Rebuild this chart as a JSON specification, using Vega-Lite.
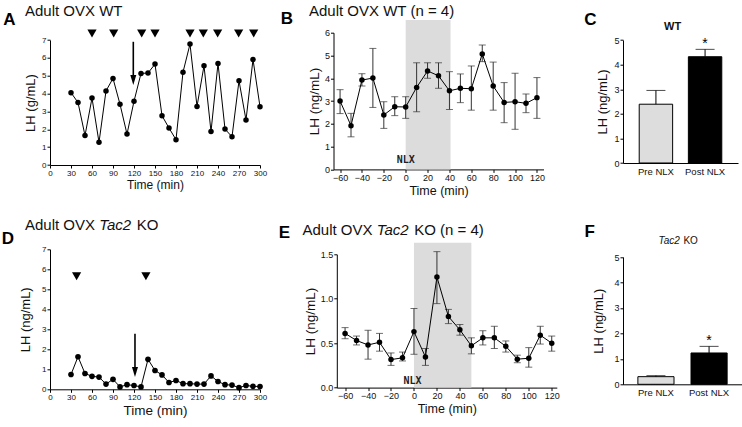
{
  "$schema": "https://vega.github.io/schema/vega-lite/v6.json",
  "autosize": "none",
  "padding": {"left": 50, "top": 32.7, "right": 692, "bottom": 394.3},
  "background": "white",
  "bounds": "flush",
  "align": "each",
  "columns": 3,
  "spacing": {"row": 75.6, "column": 65.5},
  "config": {
    "view": {"stroke": null},
    "font": "Liberation Sans",
    "axis": {"domainColor": "#000", "tickColor": "#000", "labelColor": "#111", "titleColor": "#111", "grid": false, "labelFont": "Liberation Sans", "titleFont": "Liberation Sans", "titleFontWeight": "normal", "tickSize": 3, "labelPadding": 1, "domainWidth": 1, "tickWidth": 1, "labelFontSize": 9, "titleFontSize": 13, "zindex": 1, "labelOverlap": false},
    "axisX": {"labelAngle": 0, "labelFlush": false, "labelOverlap": false},
    "axisY": {"labelOverlap": false},
    "text": {"font": "Liberation Sans", "color": "#111"}
  },
  "datasets": {
    "A": [{"t":30,"lh":4.05},{"t":40,"lh":3.5},{"t":50,"lh":1.65},{"t":60,"lh":3.75},{"t":70,"lh":1.27},{"t":80,"lh":4.15},{"t":90,"lh":4.85},{"t":100,"lh":3.4},{"t":110,"lh":1.73},{"t":120,"lh":3.57},{"t":130,"lh":5.13},{"t":140,"lh":5.15},{"t":150,"lh":5.65},{"t":160,"lh":2.76},{"t":170,"lh":2.07},{"t":180,"lh":1.42},{"t":190,"lh":5.2},{"t":200,"lh":6.77},{"t":210,"lh":3.28},{"t":220,"lh":5.56},{"t":230,"lh":1.87},{"t":240,"lh":5.69},{"t":250,"lh":2.01},{"t":260,"lh":1.58},{"t":270,"lh":4.72},{"t":280,"lh":2.52},{"t":290,"lh":5.91},{"t":300,"lh":3.26}],
    "D": [{"t":30,"lh":0.74},{"t":40,"lh":1.63},{"t":50,"lh":0.79},{"t":60,"lh":0.65},{"t":70,"lh":0.61},{"t":80,"lh":0.26},{"t":90,"lh":0.5},{"t":100,"lh":0.12},{"t":110,"lh":0.23},{"t":120,"lh":0.19},{"t":130,"lh":0.12},{"t":140,"lh":1.5},{"t":150,"lh":0.94},{"t":160,"lh":0.72},{"t":170,"lh":0.34},{"t":180,"lh":0.44},{"t":190,"lh":0.28},{"t":200,"lh":0.28},{"t":210,"lh":0.26},{"t":220,"lh":0.26},{"t":230,"lh":0.67},{"t":240,"lh":0.39},{"t":250,"lh":0.23},{"t":260,"lh":0.21},{"t":270,"lh":0.08},{"t":280,"lh":0.19},{"t":290,"lh":0.15},{"t":300,"lh":0.14}],
    "B": [{"t":-60,"m":3.0,"lo":2.45,"hi":3.5},{"t":-50,"m":1.92,"lo":1.43,"hi":2.46},{"t":-40,"m":3.92,"lo":3.66,"hi":4.2},{"t":-30,"m":4.01,"lo":2.72,"hi":5.31},{"t":-20,"m":2.39,"lo":1.8,"hi":2.97},{"t":-10,"m":2.75,"lo":2.36,"hi":3.19},{"t":0,"m":2.74,"lo":2.24,"hi":3.19},{"t":10,"m":3.6,"lo":2.53,"hi":4.68},{"t":20,"m":4.32,"lo":4.0,"hi":4.68},{"t":30,"m":4.11,"lo":3.56,"hi":4.68},{"t":40,"m":3.45,"lo":2.63,"hi":4.29},{"t":50,"m":3.56,"lo":2.93,"hi":4.19},{"t":60,"m":3.54,"lo":2.6,"hi":4.54},{"t":70,"m":5.07,"lo":4.73,"hi":5.46},{"t":80,"m":3.66,"lo":2.6,"hi":4.71},{"t":90,"m":2.94,"lo":2.05,"hi":3.81},{"t":100,"m":2.97,"lo":1.76,"hi":4.22},{"t":110,"m":2.9,"lo":2.49,"hi":3.31},{"t":120,"m":3.15,"lo":2.24,"hi":4.03}],
    "E": [{"t":-60,"m":0.61,"lo":0.55,"hi":0.675},{"t":-50,"m":0.53,"lo":0.48,"hi":0.58},{"t":-40,"m":0.48,"lo":0.32,"hi":0.645},{"t":-30,"m":0.51,"lo":0.41,"hi":0.61},{"t":-20,"m":0.315,"lo":0.25,"hi":0.39},{"t":-10,"m":0.335,"lo":0.3,"hi":0.4},{"t":0,"m":0.63,"lo":0.375,"hi":0.89},{"t":10,"m":0.345,"lo":0.25,"hi":0.44},{"t":20,"m":1.245,"lo":0.945,"hi":1.53},{"t":30,"m":0.8,"lo":0.72,"hi":0.88},{"t":40,"m":0.65,"lo":0.59,"hi":0.71},{"t":50,"m":0.47,"lo":0.38,"hi":0.56},{"t":60,"m":0.56,"lo":0.48,"hi":0.64},{"t":70,"m":0.56,"lo":0.44,"hi":0.69},{"t":80,"m":0.465,"lo":0.4,"hi":0.525},{"t":90,"m":0.32,"lo":0.28,"hi":0.365},{"t":100,"m":0.33,"lo":0.23,"hi":0.45},{"t":110,"m":0.59,"lo":0.49,"hi":0.69},{"t":120,"m":0.5,"lo":0.41,"hi":0.58}],
    "C": [{"g":"Pre NLX","m":2.39,"e":2.95},{"g":"Post NLX","m":4.32,"e":4.62}],
    "F": [{"g":"Pre NLX","m":0.3,"e":0.34},{"g":"Post NLX","m":1.23,"e":1.49}],
    "injA": [{"t":60},{"t":91},{"t":131},{"t":150},{"t":200},{"t":219},{"t":239.5},{"t":269.5},{"t":291}],
    "injD": [{"t":38},{"t":137}],
    "one": [{}]
  },
  "concat": [
    {
      "width": 217.2, "height": 132.3,
      "layer": [
        {"data": {"name": "A"}, "mark": {"type": "line", "color": "black", "strokeWidth": 1},
         "encoding": {
           "x": {"field": "t", "type": "quantitative", "scale": {"domain": [0, 300], "range": [0, 210], "nice": false, "zero": false}, "axis": {"values": [0,30,60,90,120,150,180,210,240,270,300], "format": "d", "tickCount": 50, "labelOverlap": false, "title": "Time (min)", "labelFontSize": 8, "titleFontSize": 12, "titlePadding": 2}},
           "y": {"field": "lh", "type": "quantitative", "scale": {"domain": [0, 7], "range": [132.3, 7.3], "nice": false}, "axis": {"values": [0,1,2,3,4,5,6,7], "format": "d", "tickCount": 50, "labelOverlap": false, "title": "LH (g/mL)", "labelFontSize": 8, "titleFontSize": 13, "titlePadding": 4}}
         }},
        {"data": {"name": "A"}, "mark": {"type": "point", "filled": true, "color": "black", "size": 30, "opacity": 1},
         "encoding": {"x": {"field": "t", "type": "quantitative"}, "y": {"field": "lh", "type": "quantitative"}}},
        {"data": {"name": "injA"}, "mark": {"type": "point", "shape": "triangle-down", "filled": true, "color": "black", "size": 85, "opacity": 1},
         "encoding": {"x": {"field": "t", "type": "quantitative"}, "y": {"datum": 7.37}}},
        {"data": {"name": "one"}, "mark": {"type": "rule", "color": "black", "strokeWidth": 1.6},
         "encoding": {"x": {"datum": 119}, "y": {"datum": 6.9}, "y2": {"datum": 4.76}}},
        {"data": {"name": "one"}, "mark": {"type": "point", "shape": "M-0.6,-1L0.6,-1L0,1Z", "filled": true, "color": "black", "size": 100, "opacity": 1},
         "encoding": {"x": {"datum": 119}, "y": {"datum": 4.76}}},
        {"data": {"name": "one"}, "mark": {"type": "text", "text": "A", "fontSize": 17, "fontWeight": "bold", "align": "left", "baseline": "alphabetic", "color": "#000"},
         "encoding": {"x": {"datum": -66.7}, "y": {"datum": 7.84}}},
        {"data": {"name": "one"}, "mark": {"type": "text", "text": "Adult OVX WT", "fontSize": 15, "align": "left", "baseline": "alphabetic"},
         "encoding": {"x": {"datum": -35.7}, "y": {"datum": 8.34}}}
      ]
    },
    {
      "width": 210, "height": 136.7,
      "layer": [
        {"data": {"name": "one"}, "mark": {"type": "rect", "color": "#dcdcdc"},
         "encoding": {"x": {"datum": 0}, "x2": {"datum": 41}, "y": {"datum": 0}, "y2": {"datum": 6.56}}},
        {"data": {"name": "B"}, "mark": {"type": "rule", "color": "#333", "strokeWidth": 1},
         "encoding": {"x": {"field": "t", "type": "quantitative"}, "y": {"field": "lo", "type": "quantitative"}, "y2": {"field": "hi"}}},
        {"data": {"name": "B"}, "mark": {"type": "tick", "orient": "horizontal", "size": 7, "thickness": 1, "color": "#333"},
         "encoding": {"x": {"field": "t", "type": "quantitative"}, "y": {"field": "lo", "type": "quantitative"}}},
        {"data": {"name": "B"}, "mark": {"type": "tick", "orient": "horizontal", "size": 7, "thickness": 1, "color": "#333"},
         "encoding": {"x": {"field": "t", "type": "quantitative"}, "y": {"field": "hi", "type": "quantitative"}}},
        {"data": {"name": "B"}, "mark": {"type": "line", "color": "black", "strokeWidth": 1},
         "encoding": {
           "x": {"field": "t", "type": "quantitative", "scale": {"domain": [-66, 126], "nice": false, "zero": false}, "axis": {"values": [-60,-40,-20,0,20,40,60,80,100,120], "format": "d", "tickCount": 50, "labelOverlap": false, "title": "Time (min)", "labelFontSize": 9, "titleFontSize": 12.5, "titlePadding": 2}},
           "y": {"field": "m", "type": "quantitative", "scale": {"domain": [0, 6], "range": [136.7, 0.001], "nice": false}, "axis": {"values": [0,1,2,3,4,5,6], "format": "d", "tickCount": 50, "labelOverlap": false, "title": "LH (ng/mL)", "labelFontSize": 9, "titleFontSize": 13.5, "titlePadding": 3}}
         }},
        {"data": {"name": "B"}, "mark": {"type": "point", "filled": true, "color": "black", "size": 30, "opacity": 1},
         "encoding": {"x": {"field": "t", "type": "quantitative"}, "y": {"field": "m", "type": "quantitative"}}},
        {"data": {"name": "one"}, "mark": {"type": "text", "text": "NLX", "font": "DejaVu Sans Mono", "fontSize": 10, "fontWeight": "bold", "align": "center", "baseline": "alphabetic", "color": "#222"},
         "encoding": {"x": {"datum": 0.1}, "y": {"datum": 0.26}}},
        {"data": {"name": "one"}, "mark": {"type": "text", "text": "B", "fontSize": 17, "fontWeight": "bold", "align": "left", "baseline": "alphabetic", "color": "#000"},
         "encoding": {"x": {"datum": -114.3}, "y": {"datum": 6.38}}},
        {"data": {"name": "one"}, "mark": {"type": "text", "text": "Adult OVX WT (n = 4)", "fontSize": 15, "align": "left", "baseline": "alphabetic"},
         "encoding": {"x": {"datum": -88.4}, "y": {"datum": 6.73}}}
      ]
    },
    {
      "width": 115, "height": 130.3,
      "layer": [
        {"data": {"name": "C"}, "mark": {"type": "bar", "stroke": "black", "strokeWidth": 1},
         "encoding": {
           "x": {"field": "g", "type": "nominal", "scale": {"domain": ["Pre NLX", "Post NLX"], "paddingInner": 0.32, "paddingOuter": 0.33}, "axis": {"title": null, "ticks": false, "labelFontSize": 9.5, "labelPadding": 3}},
           "y": {"field": "m", "type": "quantitative", "scale": {"domain": [0, 5], "range": [130.3, 7.3], "nice": false}, "axis": {"values": [0,1,2,3,4,5], "format": "d", "tickCount": 50, "labelOverlap": false, "title": "LH (ng/mL)", "labelFontSize": 9, "titleFontSize": 13, "titlePadding": 4}},
           "color": {"field": "g", "type": "nominal", "scale": {"domain": ["Pre NLX", "Post NLX"], "range": ["#dddddd", "#000000"]}, "legend": null}
         }},
        {"data": {"name": "C"}, "mark": {"type": "rule", "color": "black", "strokeWidth": 1},
         "encoding": {"x": {"field": "g", "type": "nominal"}, "y": {"field": "m", "type": "quantitative"}, "y2": {"field": "e"}}},
        {"data": {"name": "C"}, "mark": {"type": "tick", "orient": "horizontal", "size": 19, "thickness": 1, "color": "black"},
         "encoding": {"x": {"field": "g", "type": "nominal"}, "y": {"field": "e", "type": "quantitative"}}},
        {"data": {"name": "one"}, "mark": {"type": "text", "text": "*", "fontSize": 14, "align": "center", "baseline": "alphabetic", "color": "#000"},
         "encoding": {"x": {"datum": "Post NLX", "type": "nominal"}, "y": {"datum": 4.69}}},
        {"data": {"name": "one"}, "mark": {"type": "text", "text": "C", "fontSize": 17, "fontWeight": "bold", "align": "left", "baseline": "alphabetic", "dx": -71.6, "color": "#000"},
         "encoding": {"x": {"datum": "Pre NLX", "type": "nominal"}, "y": {"datum": 5.61}}},
        {"data": {"name": "one"}, "mark": {"type": "text", "text": "WT", "fontSize": 11, "fontWeight": "bold", "align": "center", "baseline": "alphabetic", "dx": 16.7},
         "encoding": {"x": {"datum": "Pre NLX", "type": "nominal"}, "y": {"datum": 5.41}}}
      ]
    },
    {
      "width": 217.2, "height": 144,
      "layer": [
        {"data": {"name": "D"}, "mark": {"type": "line", "color": "black", "strokeWidth": 1},
         "encoding": {
           "x": {"field": "t", "type": "quantitative", "scale": {"domain": [0, 300], "range": [0, 210], "nice": false, "zero": false}, "axis": {"values": [0,30,60,90,120,150,180,210,240,270,300], "format": "d", "tickCount": 50, "labelOverlap": false, "title": "Time (min)", "labelFontSize": 8, "titleFontSize": 13.5, "titlePadding": 2}},
           "y": {"field": "lh", "type": "quantitative", "scale": {"domain": [0, 7.001], "range": [144, 4], "nice": false}, "axis": {"values": [0,1,2,3,4,5,6,7], "format": "d", "tickCount": 50, "labelOverlap": false, "labelBound": false, "title": "LH (ng/mL)", "labelFontSize": 8, "titleFontSize": 13, "titlePadding": 9}}
         }},
        {"data": {"name": "D"}, "mark": {"type": "point", "filled": true, "color": "black", "size": 32, "opacity": 1},
         "encoding": {"x": {"field": "t", "type": "quantitative"}, "y": {"field": "lh", "type": "quantitative"}}},
        {"data": {"name": "injD"}, "mark": {"type": "point", "shape": "triangle-down", "filled": true, "color": "black", "size": 85, "opacity": 1},
         "encoding": {"x": {"field": "t", "type": "quantitative"}, "y": {"datum": 5.65}}},
        {"data": {"name": "one"}, "mark": {"type": "rule", "color": "black", "strokeWidth": 1.6},
         "encoding": {"x": {"datum": 121.4}, "y": {"datum": 2.78}, "y2": {"datum": 0.87}}},
        {"data": {"name": "one"}, "mark": {"type": "point", "shape": "M-0.6,-1L0.6,-1L0,1Z", "filled": true, "color": "black", "size": 100, "opacity": 1},
         "encoding": {"x": {"datum": 121.4}, "y": {"datum": 0.87}}},
        {"data": {"name": "one"}, "mark": {"type": "text", "text": "D", "fontSize": 17, "fontWeight": "bold", "align": "left", "baseline": "alphabetic", "color": "#000"},
         "encoding": {"x": {"datum": -69}, "y": {"datum": 7.285}}},
        {"data": {"name": "one"}, "mark": {"type": "text", "text": "Adult OVX", "fontSize": 15, "align": "left", "baseline": "alphabetic"},
         "encoding": {"x": {"datum": -35.7}, "y": {"datum": 7.95}}},
        {"data": {"name": "one"}, "mark": {"type": "text", "text": "Tac2", "fontSize": 15, "fontStyle": "italic", "align": "left", "baseline": "alphabetic"},
         "encoding": {"x": {"datum": 70.3}, "y": {"datum": 7.95}}},
        {"data": {"name": "one"}, "mark": {"type": "text", "text": "KO", "fontSize": 15, "align": "left", "baseline": "alphabetic"},
         "encoding": {"x": {"datum": 123.9}, "y": {"datum": 7.95}}}
      ]
    },
    {
      "width": 223.3, "height": 142.3,
      "layer": [
        {"data": {"name": "one"}, "mark": {"type": "rect", "color": "#dcdcdc"},
         "encoding": {"x": {"datum": 0}, "x2": {"datum": 50}, "y": {"datum": 0}, "y2": {"datum": 1.63}}},
        {"data": {"name": "E"}, "mark": {"type": "rule", "color": "#333", "strokeWidth": 1},
         "encoding": {"x": {"field": "t", "type": "quantitative"}, "y": {"field": "lo", "type": "quantitative"}, "y2": {"field": "hi"}}},
        {"data": {"name": "E"}, "mark": {"type": "tick", "orient": "horizontal", "size": 7, "thickness": 1, "color": "#333"},
         "encoding": {"x": {"field": "t", "type": "quantitative"}, "y": {"field": "lo", "type": "quantitative"}}},
        {"data": {"name": "E"}, "mark": {"type": "tick", "orient": "horizontal", "size": 7, "thickness": 1, "color": "#333"},
         "encoding": {"x": {"field": "t", "type": "quantitative"}, "y": {"field": "hi", "type": "quantitative"}}},
        {"data": {"name": "E"}, "mark": {"type": "line", "color": "black", "strokeWidth": 1},
         "encoding": {
           "x": {"field": "t", "type": "quantitative", "scale": {"domain": [-67.2, 124.4], "range": [3.3, 223.3], "nice": false, "zero": false}, "axis": {"values": [-60,-40,-20,0,20,40,60,80,100,120], "format": "d", "tickCount": 50, "labelOverlap": false, "title": "Time (min)", "labelFontSize": 9, "titleFontSize": 12.5, "titlePadding": 2}},
           "y": {"field": "m", "type": "quantitative", "scale": {"domain": [0, 1.5], "range": [142.3, 9], "nice": false}, "axis": {"values": [0,0.5,1,1.5], "tickCount": 50, "labelOverlap": false, "format": ".1f", "offset": -3.3, "title": "LH (ng/mL)", "labelFontSize": 9, "titleFontSize": 13.5, "titlePadding": 3}}
         }},
        {"data": {"name": "E"}, "mark": {"type": "point", "filled": true, "color": "black", "size": 30, "opacity": 1},
         "encoding": {"x": {"field": "t", "type": "quantitative"}, "y": {"field": "m", "type": "quantitative"}}},
        {"data": {"name": "one"}, "mark": {"type": "text", "text": "NLX", "font": "DejaVu Sans Mono", "fontSize": 10, "fontWeight": "bold", "align": "center", "baseline": "alphabetic", "color": "#222"},
         "encoding": {"x": {"datum": -1.3}, "y": {"datum": 0.045}}},
        {"data": {"name": "one"}, "mark": {"type": "text", "text": "E", "fontSize": 17, "fontWeight": "bold", "align": "left", "baseline": "alphabetic", "color": "#000"},
         "encoding": {"x": {"datum": -117.8}, "y": {"datum": 1.68}}},
        {"data": {"name": "one"}, "mark": {"type": "text", "text": "Adult OVX", "fontSize": 15, "align": "left", "baseline": "alphabetic"},
         "encoding": {"x": {"datum": -97.1}, "y": {"datum": 1.714}}},
        {"data": {"name": "one"}, "mark": {"type": "text", "text": "Tac2", "fontSize": 15, "fontStyle": "italic", "align": "left", "baseline": "alphabetic"},
         "encoding": {"x": {"datum": -32.5}, "y": {"datum": 1.714}}},
        {"data": {"name": "one"}, "mark": {"type": "text", "text": "KO (n = 4)", "fontSize": 15, "align": "left", "baseline": "alphabetic"},
         "encoding": {"x": {"datum": 0.19}, "y": {"datum": 1.714}}}
      ]
    },
    {
      "width": 119, "height": 139,
      "layer": [
        {"data": {"name": "F"}, "mark": {"type": "bar", "stroke": "black", "strokeWidth": 1},
         "encoding": {
           "x": {"field": "g", "type": "nominal", "scale": {"domain": ["Pre NLX", "Post NLX"], "paddingInner": 0.32, "paddingOuter": 0.28}, "axis": {"title": null, "ticks": false, "labelFontSize": 9.5, "labelPadding": 3}},
           "y": {"field": "m", "type": "quantitative", "scale": {"domain": [0, 5], "range": [139, 11.7], "nice": false}, "axis": {"values": [0,1,2,3,4,5], "format": "d", "tickCount": 50, "labelOverlap": false, "title": "LH (ng/mL)", "labelFontSize": 9, "titleFontSize": 13, "titlePadding": 8}},
           "color": {"field": "g", "type": "nominal", "scale": {"domain": ["Pre NLX", "Post NLX"], "range": ["#dddddd", "#000000"]}, "legend": null}
         }},
        {"data": {"name": "F"}, "mark": {"type": "rule", "color": "black", "strokeWidth": 1},
         "encoding": {"x": {"field": "g", "type": "nominal"}, "y": {"field": "m", "type": "quantitative"}, "y2": {"field": "e"}}},
        {"data": {"name": "F"}, "mark": {"type": "tick", "orient": "horizontal", "size": 19, "thickness": 1, "color": "black"},
         "encoding": {"x": {"field": "g", "type": "nominal"}, "y": {"field": "e", "type": "quantitative"}}},
        {"data": {"name": "one"}, "mark": {"type": "text", "text": "*", "fontSize": 14, "align": "center", "baseline": "alphabetic", "color": "#000"},
         "encoding": {"x": {"datum": "Post NLX", "type": "nominal"}, "y": {"datum": 1.56}}},
        {"data": {"name": "one"}, "mark": {"type": "text", "text": "F", "fontSize": 17, "fontWeight": "bold", "align": "left", "baseline": "alphabetic", "dx": -71.5, "color": "#000"},
         "encoding": {"x": {"datum": "Pre NLX", "type": "nominal"}, "y": {"datum": 5.77}}},
        {"data": {"name": "one"}, "mark": {"type": "text", "text": "Tac2", "fontSize": 10, "fontStyle": "italic", "align": "left", "baseline": "alphabetic", "dx": 2.5},
         "encoding": {"x": {"datum": "Pre NLX", "type": "nominal"}, "y": {"datum": 5.53}}},
        {"data": {"name": "one"}, "mark": {"type": "text", "text": "KO", "fontSize": 10, "align": "left", "baseline": "alphabetic", "dx": 27.5},
         "encoding": {"x": {"datum": "Pre NLX", "type": "nominal"}, "y": {"datum": 5.53}}}
      ]
    }
  ]
}
